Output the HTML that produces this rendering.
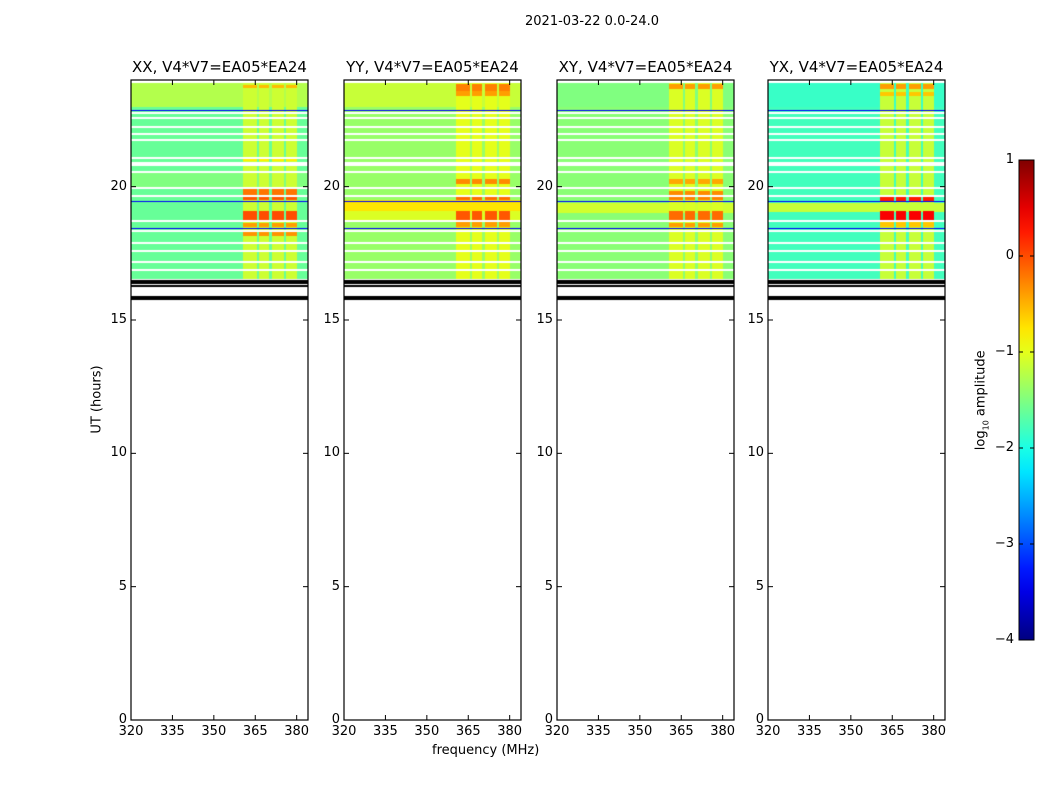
<!DOCTYPE html>
<html><head><meta charset="utf-8">
<style>
body{margin:0;background:#fff;}
#root{position:relative;width:1050px;height:800px;background:#fff;font-family:"DejaVu Sans","Liberation Sans",sans-serif;color:#000;overflow:hidden}
.t{position:absolute;white-space:nowrap;font-size:13px}
canvas{position:absolute}
svg{position:absolute;left:0;top:0}
</style></head>
<body>
<div id="root">
<div class="t" style="left:525px;top:14px;font-size:13px">2021-03-22 0.0-24.0</div>
<div class="t" style="left:432px;top:743px">frequency (MHz)</div>
<div class="t" style="left:57px;top:392px;transform:rotate(-90deg);width:80px;text-align:center">UT (hours)</div>
<div class="t" style="left:932px;top:392px;transform:rotate(-90deg);width:100px;text-align:center">log<sub style="font-size:8px">10</sub> amplitude</div>
<svg id="axes" width="1050" height="800"></svg>
</div>
<script>
// ---- data ----
const panelNames = ["XX","YY","XY","YX"];
const panelLeft = [131,344,557,768];
const xTicks = [320,335,350,365,380];
const yTicks = [0,5,10,15,20];
const cbTicks = [1,0,-1,-2,-3,-4];
const freqRange = [320,384.1];
const timeRange = [0,24];
const dataTime = [16.54,23.89];
// background levels (log10 amplitude) per panel
const bgLevel = [-1.62,-1.38,-1.45,-1.8];
// RFI column frequency intervals (MHz)
const rfiCols = [[360.7,365.5],[366.2,369.8],[370.9,375.3],[376.0,380.0]];
const colLevel = [-1.12,-1.0,-1.05,-1.15];
// background bands per panel [t0,t1,level]
const bgBands = [
  [[23.0,23.89,-1.25],[20.0,20.6,-1.5]],
  [[23.0,23.89,-1.15],[19.1,19.5,-0.75],[18.75,19.1,-1.05]],
  [[23.0,23.89,-1.5],[19.0,19.4,-1.1]],
  [[23.0,23.89,-1.85],[19.05,19.4,-1.15]]
];
// RFI bursts per panel [t0,t1,level] (applied in RFI columns)
const bursts = [
  [[23.7,23.82,-0.55],[20.95,21.1,-0.8],[19.7,19.9,-0.2],[19.5,19.65,-0.05],[18.7,19.1,0.0],[18.5,18.65,-0.4],[18.15,18.3,-0.35]],
  [[23.6,23.85,-0.25],[23.4,23.6,-0.4],[20.1,20.3,-0.3],[19.5,19.7,-0.15],[18.75,19.1,-0.05],[18.5,18.7,-0.4]],
  [[23.65,23.85,-0.4],[20.1,20.3,-0.45],[19.7,19.85,-0.3],[19.5,19.65,-0.25],[18.75,19.1,-0.15],[18.5,18.65,-0.4]],
  [[23.65,23.85,-0.4],[23.4,23.55,-0.6],[19.45,19.65,0.25],[18.7,19.1,0.4],[18.5,18.7,-0.6]]
];
// flagged (white) rows, centre times
const gapTimes = [22.76,22.58,22.24,21.98,21.75,21.08,20.89,20.81,20.55,19.95,19.65,18.71,18.34,17.89,17.59,17.18,16.88];
// low-amplitude (dark blue) rows
const blueTimes = [22.84,19.46,18.43];
// black masked bands [t0,t1]
const blackBands = [[16.35,16.50],[16.25,16.31],[15.75,15.90]];

// ---- scales ----
const plotTop=80, plotBot=720, plotW=177;
const yS = t => plotBot - (t-timeRange[0])/(timeRange[1]-timeRange[0])*(plotBot-plotTop);
const xS = (p,f) => panelLeft[p] + (f-freqRange[0])/(freqRange[1]-freqRange[0])*plotW;
const cbTop=160, cbBot=640, cbX=1019, cbW=15;
const cbS = v => cbBot - (v+4)/5*(cbBot-cbTop);

function jet(x){x=Math.max(0,Math.min(1,x));
  const c=v=>Math.round(255*Math.max(0,Math.min(1,v)));
  return [c(1.5-Math.abs(4*x-3)),c(1.5-Math.abs(4*x-2)),c(1.5-Math.abs(4*x-1))];}
const col = v => jet((v+4)/5);

function value(p,t,f){
  let v=bgLevel[p];
  for(const b of bgBands[p]) if(t>=b[0]&&t<b[1]) v=b[2];
  let inCol=false;
  for(const c of rfiCols) if(f>=c[0]&&f<c[1]) inCol=true;
  if(inCol){ v=Math.max(v,colLevel[p]);
    for(const b of bursts[p]) if(t>=b[0]&&t<b[1]) v=Math.max(v,b[2]); }
  return v;
}

const root=document.getElementById('root');
const svg=document.getElementById('axes');
const NS='http://www.w3.org/2000/svg';
function sv(tag,attrs){const e=document.createElementNS(NS,tag);for(const k in attrs)e.setAttribute(k,attrs[k]);svg.appendChild(e);return e;}
function txt(s,x,y,align,name){const d=document.createElement('div');d.className='t';d.textContent=s;
  
  
  d.style.top=(y-8)+'px';
  if(align==='c'){d.style.left=(x-40)+'px';d.style.width='80px';d.style.textAlign='center';}
  else{d.style.left=(x-60)+'px';d.style.width='60px';d.style.textAlign='right';}
  root.appendChild(d);}

for(let p=0;p<4;p++){
  const cv=document.createElement('canvas');
  cv.width=plotW;cv.height=plotBot-plotTop;
  cv.style.left=panelLeft[p]+'px';cv.style.top=plotTop+'px';
  
  
  root.insertBefore(cv,svg);
  const ctx=cv.getContext('2d');
  const img=ctx.createImageData(cv.width,cv.height);
  for(let py=0;py<cv.height;py++){
    const t=timeRange[0]+(plotBot-(py+plotTop+0.5))/(plotBot-plotTop)*(timeRange[1]-timeRange[0]);
    let mode=0;
    if(t>=dataTime[0]&&t<=dataTime[1]) mode=1;
    for(const g of gapTimes) if(Math.abs(t-g)<0.035) mode=2;
    for(const g of blueTimes) if(Math.abs(t-g)<0.02) mode=3;
    for(const b of blackBands) if(t>=b[0]&&t<=b[1]) mode=4;
    for(let px=0;px<cv.width;px++){
      const f=freqRange[0]+(px+0.5)/plotW*(freqRange[1]-freqRange[0]);
      let c=[255,255,255];
      if(mode===1) c=col(value(p,t,f));
      else if(mode===3) c=col(-3.4);
      else if(mode===4) c=[0,0,0];
      const i=(py*cv.width+px)*4;
      img.data[i]=c[0];img.data[i+1]=c[1];img.data[i+2]=c[2];img.data[i+3]=255;
    }
  }
  ctx.putImageData(img,0,0);
  const L=panelLeft[p];
  const fr=sv('rect',{x:L,y:plotTop,width:plotW,height:plotBot-plotTop,fill:'none',stroke:'#000','stroke-width':1.2});
  
  
  for(const f of xTicks){const x=xS(p,f);
    sv('line',{x1:x,x2:x,y1:plotBot,y2:plotBot-5,stroke:'#000'});
    sv('line',{x1:x,x2:x,y1:plotTop,y2:plotTop+5,stroke:'#000'});
    txt(String(f),x,plotBot+12,'c','x-tick-label');}
  for(const t of yTicks){const y=yS(t);
    sv('line',{x1:L,x2:L+5,y1:y,y2:y,stroke:'#000'});
    sv('line',{x1:L+plotW,x2:L+plotW-5,y1:y,y2:y,stroke:'#000'});
    txt(String(t),L-4,y,'r','y-tick-label');}
  const ti=document.createElement('div');ti.className='t';
  ti.textContent=panelNames[p]+', V4*V7=EA05*EA24';
  
  
  ti.style.left=(L-30)+'px';ti.style.width=(plotW+60)+'px';ti.style.textAlign='center';ti.style.top='58px';ti.style.fontSize='15px';
  root.appendChild(ti);
}
// colorbar
const defs=sv('defs',{});
const lg=document.createElementNS(NS,'linearGradient');
lg.setAttribute('id','jetg');lg.setAttribute('x1','0');lg.setAttribute('x2','0');lg.setAttribute('y1','1');lg.setAttribute('y2','0');
for(let i=0;i<=20;i++){const c=jet(i/20);const s=document.createElementNS(NS,'stop');
  s.setAttribute('offset',(i/20));s.setAttribute('stop-color','rgb('+c.join(',')+')');lg.appendChild(s);}
defs.appendChild(lg);
const cb=sv('rect',{x:cbX,y:cbTop,width:cbW,height:cbBot-cbTop,fill:'url(#jetg)',stroke:'#000','stroke-width':1});


for(const v of cbTicks){const y=cbS(v);
  sv('line',{x1:cbX,x2:cbX+4,y1:y,y2:y,stroke:'#000'});
  sv('line',{x1:cbX+cbW,x2:cbX+cbW-4,y1:y,y2:y,stroke:'#000'});
  txt(v<0?'\u2212'+(-v):String(v),cbX-5,y,'r','colorbar-tick-label');}
</script>
</body></html>
